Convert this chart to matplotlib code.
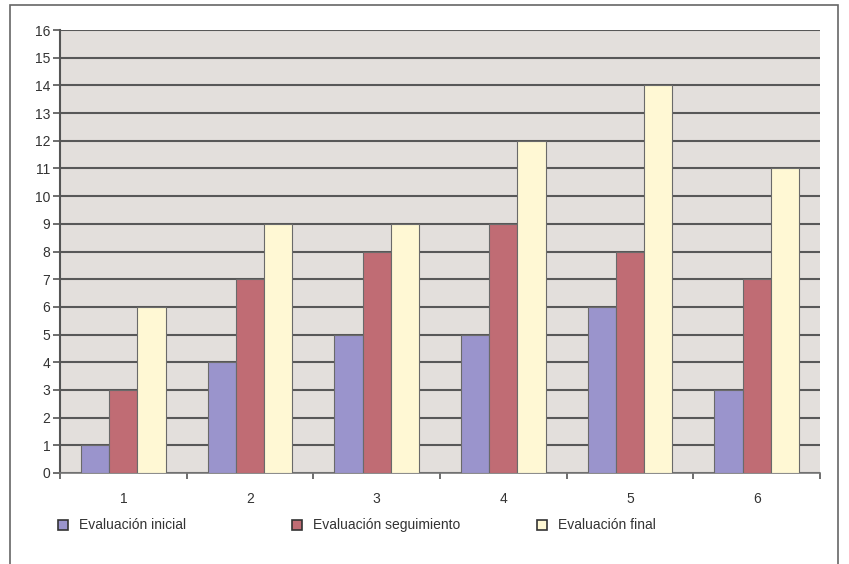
import matplotlib
matplotlib.use("Agg")
import matplotlib.pyplot as plt
from matplotlib.patches import Rectangle
import numpy as np

plt.rcParams['font.family'] = ['Liberation Sans', 'DejaVu Sans']

categories = ["1", "2", "3", "4", "5", "6"]
series_names = ["Evaluación inicial", "Evaluación seguimiento", "Evaluación final"]
inicial = [1, 4, 5, 5, 6, 3]
seguimiento = [3, 7, 8, 9, 8, 7]
final = [6, 9, 9, 12, 14, 11]
y_ticks = list(range(0, 17))

colors = ["#9a94cc", "#c06c74", "#fff8d4"]
W, H = 849, 564
fig = plt.figure(figsize=(W / 100, H / 100), dpi=100)
fig.patch.set_facecolor("white")

ax = fig.add_axes([60 / W, (H - 473) / H, 760 / W, 443 / H])
ax.set_facecolor("#e3dfdc")

x = np.arange(len(categories))
bw = 0.222
for i, (vals, c) in enumerate(zip([inicial, seguimiento, final], colors)):
    ax.bar(x + (i - 1) * bw, vals, width=bw, color=c, edgecolor="#6a6a6a",
           linewidth=0.8, zorder=3)

ax.set_xlim(-0.5, len(categories) - 0.5)
ax.set_ylim(0, 16)
ax.set_yticks(y_ticks)
ax.set_yticklabels([str(t) for t in y_ticks])
ax.yaxis.grid(True, color="#585858", linewidth=1.5, zorder=1)
ax.set_axisbelow(True)

ax.set_xticks(x)
ax.set_xticklabels(categories)
ax.set_xticks(np.arange(-0.5, len(categories)), minor=True)
ax.tick_params(axis="x", which="major", length=0, pad=14, labelsize=10, labelcolor="#333333")
ax.tick_params(axis="x", which="minor", length=4, color="#555555", width=1.2)
ax.tick_params(axis="y", length=5, color="#555555", width=1.2, labelsize=10,
               labelcolor="#333333", pad=2)

for s in ["top", "right"]:
    ax.spines[s].set_visible(False)
ax.spines["left"].set_color("#555555")
ax.spines["left"].set_linewidth(1.5)
ax.spines["bottom"].set_color("#777777")
ax.spines["bottom"].set_linewidth(1.2)

# outer frame
fig.add_artist(Rectangle((10 / W, -0.05), 828 / W, 1.05 - 5 / H, transform=fig.transFigure,
                         fill=False, edgecolor="#666666", linewidth=1.2, clip_on=False))

# legend
leg_x = [58, 292, 537]
leg_y = H - 525
for name, c, lx in zip(series_names, colors, leg_x):
    fig.add_artist(Rectangle((lx / W, (leg_y - 5) / H), 10 / W, 10 / H,
                             transform=fig.transFigure, facecolor=c,
                             edgecolor="#333333", linewidth=1.2))
    fig.text((lx + 21) / W, leg_y / H, name, fontsize=10, color="#333333",
             va="center", ha="left")

fig.savefig("out.png", dpi=100)
